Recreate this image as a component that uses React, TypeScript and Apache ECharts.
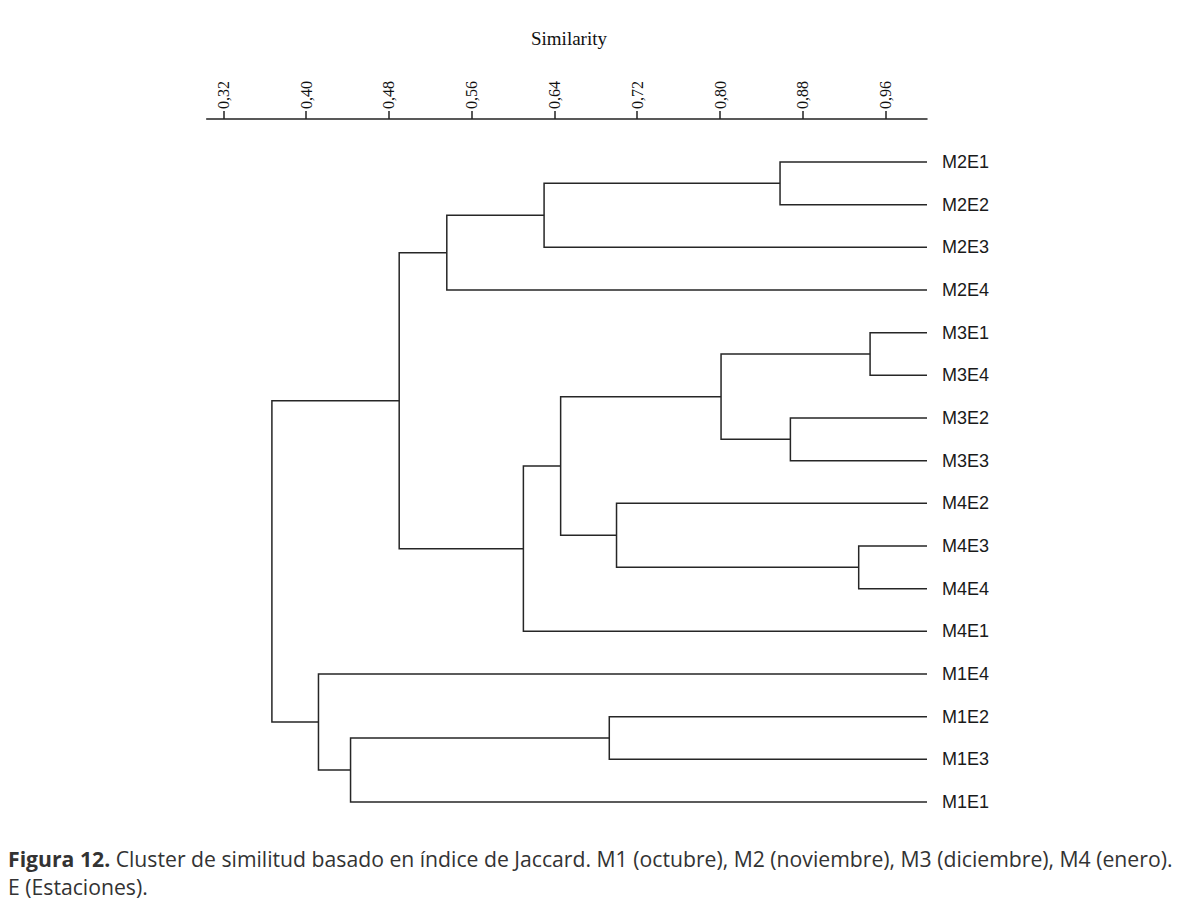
import React, { useEffect, useRef } from "react";
import * as echarts from "echarts";

// Leaves, top to bottom
const leaves = [
  "M2E1", "M2E2", "M2E3", "M2E4",
  "M3E1", "M3E4", "M3E2", "M3E3",
  "M4E2", "M4E3", "M4E4", "M4E1",
  "M1E4", "M1E2", "M1E3", "M1E1",
];
// Merges: node ids 0..15 are leaves, merge k creates node 16+k
const mergeA = [0, 16, 17, 4, 6, 19, 9, 8, 21, 24, 18, 13, 27, 12, 26];
const mergeB = [1, 2, 3, 5, 7, 20, 10, 22, 23, 11, 25, 14, 15, 28, 29];
const mergeSimilarity = [
  0.858, 0.63, 0.536, 0.945, 0.868, 0.801, 0.934, 0.7, 0.646, 0.61, 0.49, 0.693,
  0.443, 0.412, 0.367,
];
const tickValues = [0.32, 0.4, 0.48, 0.56, 0.64, 0.72, 0.8, 0.88, 0.96];
const axisMin = 0.304;
const axisMax = 1.0;

const captionBold = "Figura 12.";
const captionLine1 =
  " Cluster de similitud basado en índice de Jaccard. M1 (octubre), M2 (noviembre), M3 (diciembre), M4 (enero).";
const captionLine2 = "E (Estaciones).";

function buildBrackets() {
  const nodeX: number[] = leaves.map(() => 1.0);
  const nodeY: number[] = leaves.map((_, i) => i);
  const data: number[][] = [];
  for (let k = 0; k < mergeA.length; k++) {
    const a = mergeA[k];
    const b = mergeB[k];
    const s = mergeSimilarity[k];
    data.push([s, nodeY[a], nodeX[a], nodeY[b], nodeX[b]]);
    nodeX.push(s);
    nodeY.push((nodeY[a] + nodeY[b]) / 2);
  }
  return data;
}

export default function App() {
  const ref = useRef<HTMLDivElement>(null);
  useEffect(() => {
    if (!ref.current) return;
    const chart = echarts.init(ref.current, null, { renderer: "svg" });
    const brackets = buildBrackets();
    const lineColor = "#262626";
    chart.setOption({
      animation: false,
      backgroundColor: "#ffffff",
      grid: { left: 206.7, right: 265, top: 162, height: 640, containLabel: false },
      xAxis: {
        type: "value",
        position: "top",
        offset: 43,
        min: axisMin,
        max: axisMax,
        axisLine: { show: true, onZero: false, lineStyle: { color: "#222", width: 1.5 } },
        axisTick: {
          show: true,
          length: 8,
          customValues: tickValues,
          lineStyle: { color: "#222", width: 1.5 },
        },
        axisLabel: {
          show: true,
          customValues: tickValues,
          rotate: -90,
          margin: 10,
          fontFamily: "'Liberation Serif', 'Times New Roman', serif",
          fontSize: 16,
          color: "#111",
          formatter: (v: number) => v.toFixed(2).replace(".", ","),
        },
        splitLine: { show: false },
      },
      yAxis: {
        type: "value",
        position: "right",
        inverse: true,
        min: 0,
        max: leaves.length - 1,
        interval: 1,
        axisLine: { show: false },
        axisTick: { show: false },
        splitLine: { show: false },
        axisLabel: {
          show: true,
          margin: 15,
          fontFamily: "'Liberation Sans', Arial, sans-serif",
          fontSize: 18,
          color: "#1a1a1a",
          formatter: (v: number) => leaves[Math.round(v)] ?? "",
        },
      },
      series: [
        {
          type: "custom",
          coordinateSystem: "cartesian2d",
          data: brackets,
          encode: { x: [0, 2, 4], y: [1, 3] },
          renderItem: (params: any, api: any) => {
            const s = api.value(0);
            const ya = api.value(1);
            const xa = api.value(2);
            const yb = api.value(3);
            const xb = api.value(4);
            const p1 = api.coord([xa, ya]);
            const p2 = api.coord([s, ya]);
            const p3 = api.coord([s, yb]);
            const p4 = api.coord([xb, yb]);
            return {
              type: "polyline",
              shape: { points: [p1, p2, p3, p4] },
              style: { stroke: lineColor, lineWidth: 1.5, fill: "none" },
            };
          },
          silent: true,
        },
      ],
      graphic: [
        {
          type: "text",
          x: 569,
          y: 38,
          style: {
            text: "Similarity",
            font: "19px 'Liberation Serif', 'Times New Roman', serif",
            fill: "#111",
            textAlign: "center",
            textVerticalAlign: "middle",
          },
        },
        {
          type: "text",
          x: 8,
          y: 858,
          style: {
            text: "{b|" + captionBold + "}{n|" + captionLine1 + "}",
            textVerticalAlign: "middle",
            rich: {
              b: {
                font: "bold 21.2px 'Open Sans', sans-serif",
                fill: "#333",
              },
              n: {
                font: "21.2px 'Open Sans', sans-serif",
                fill: "#333",
              },
            },
          },
        },
        {
          type: "text",
          x: 8,
          y: 886,
          style: {
            text: captionLine2,
            font: "21.2px 'Open Sans', sans-serif",
            fill: "#333",
            textVerticalAlign: "middle",
          },
        },
      ],
    });
    return () => chart.dispose();
  }, []);
  return (
    <div
      ref={ref}
      style={{ position: "fixed", left: 0, top: 0, width: 1192, height: 912 }}
    />
  );
}
